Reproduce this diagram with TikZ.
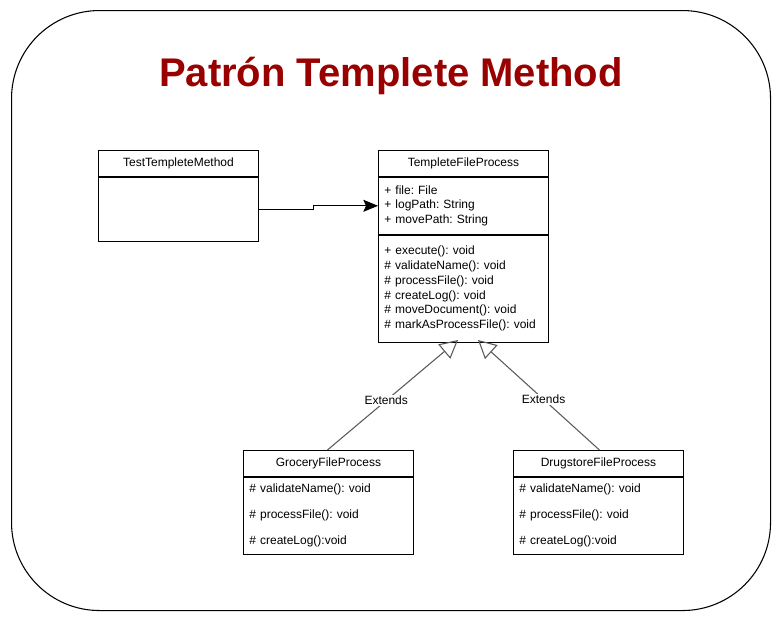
\documentclass[tikz,border=0pt]{standalone}
\usepackage{fontspec}
\setmainfont{Liberation Sans}
\usetikzlibrary{arrows.meta, positioning}
\definecolor{titlered}{HTML}{990000}
\definecolor{extgray}{HTML}{5A5A5A}
\frenchspacing
\newcommand{\umlfont}{\fontsize{9}{11.1}\selectfont}
\tikzset{head/.style = {shape=rectangle,draw,inner sep=0pt,minimum width=127.5pt,minimum height=19.5pt,font=\umlfont}}
\tikzset{sect/.style = {shape=rectangle,draw,inner xsep=4.5pt,inner ysep=0pt,text width=118.5pt,align=left,font=\umlfont}}
\tikzset{edge/.style = {-{Stealth[length=11pt,width=9pt,inset=2pt]}}}
\tikzset{ext/.style = {draw=extgray,line width=0.8pt,-{Triangle[open,length=13.5pt,width=14pt]}}}
\tikzset{lbl/.style = {fill=white,inner sep=1pt,font=\umlfont,text=black}}

\begin{document}
\begin{tikzpicture}[x=0.75pt,y=-0.75pt,line width=0.65pt]
        \useasboundingbox (0,0) rectangle (782,621);
        \node[draw,rounded corners=66pt,minimum width=759*0.75pt,minimum height=600*0.75pt,anchor=north west,line width=0.8pt] (frame) at (11,10) {};
        \node[font=\fontsize{30}{32}\selectfont\bfseries,text=titlered] (title) at (391,76) {Patrón Templete Method};
        % client class
        \node[head,minimum width=120pt,anchor=north west] (test) at (98,150) {TestTempleteMethod};
        \node[sect,text width=111pt,minimum height=48pt,below=0pt of test] (testbody) {};
        % abstract class
        \node[head,anchor=north west] (tfp) at (378,150) {TempleteFileProcess};
        \node[sect,minimum height=42.75pt,below=0pt of tfp] (tfpattr) {+ file: File\\+ logPath: String\\+ movePath: String};
        \node[sect,minimum height=80.25pt,below=0pt of tfpattr] (tfpmeth) {+ execute(): void\\\# validateName(): void\\\# processFile(): void\\\# createLog(): void\\\# moveDocument(): void\\\# markAsProcessFile(): void};
        % concrete classes
        \node[head,anchor=north west] (groc) at (243,450) {GroceryFileProcess};
        \node[sect,minimum height=57.75pt,below=0pt of groc,font=\fontsize{9}{19.5}\selectfont] (grocbody) {\# validateName(): void\\\# processFile(): void\\\# createLog():void};
        \node[head,anchor=north west] (drug) at (513,450) {DrugstoreFileProcess};
        \node[sect,minimum height=57.75pt,below=0pt of drug,font=\fontsize{9}{19.5}\selectfont] (drugbody) {\# validateName(): void\\\# processFile(): void\\\# createLog():void};
        \coordinate (baseL) at (458,340);
        \coordinate (baseR) at (478,340);
        % connectors
        \draw[edge] (testbody.east) -- ++(55,0) |- (tfpattr.west);
        \draw[ext] ([xshift=-1*0.75pt]groc.north) -- node[lbl,pos=0.45] {Extends} (baseL);
        \draw[ext] ([xshift=1*0.75pt]drug.north) -- node[lbl,pos=0.46] {Extends} (baseR);
    \end{tikzpicture}
\end{document}
